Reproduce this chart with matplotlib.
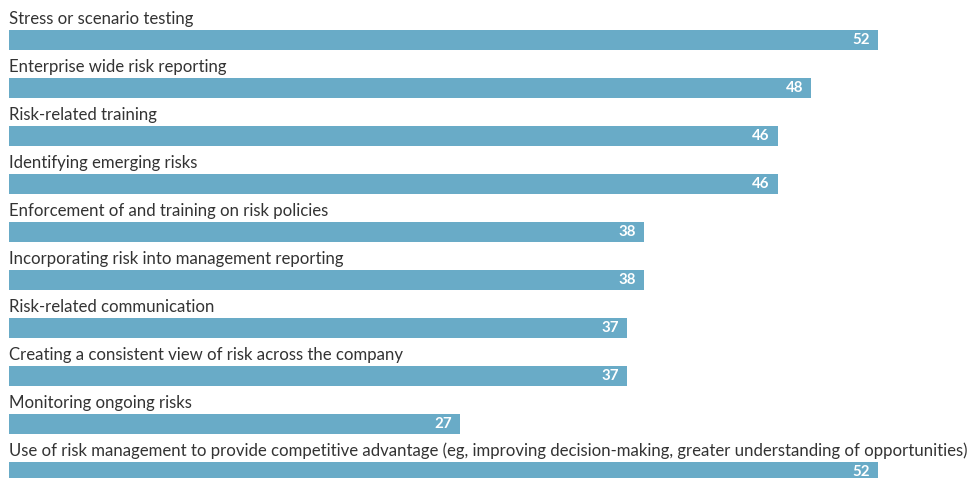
import matplotlib
matplotlib.use("Agg")
import matplotlib.pyplot as plt

categories = [
    "Stress or scenario testing",
    "Enterprise wide risk reporting",
    "Risk-related training",
    "Identifying emerging risks",
    "Enforcement of and training on risk policies",
    "Incorporating risk into management reporting",
    "Risk-related communication",
    "Creating a consistent view of risk across the company",
    "Monitoring ongoing risks",
    "Use of risk management to provide competitive advantage (eg, improving decision-making, greater understanding of opportunities)",
]
values = [52, 48, 46, 46, 38, 38, 37, 37, 27, 52]

BAR_COLOR = "#69abc7"
TEXT_COLOR = "#333333"

fig = plt.figure(figsize=(9.70, 4.78), dpi=100)
ax = fig.add_axes([0, 0, 1, 1])

px_per_unit = 869 / 52.0
ax.set_xlim(-9 / px_per_unit, (970 - 9) / px_per_unit)
row = 48.0
ax.set_ylim((478 - 40) / row, -40 / row)

positions = list(range(len(categories)))
ax.barh(positions, values, height=20 / row, color=BAR_COLOR, left=0)

for y, label, v in zip(positions, categories, values):
    ax.text(0, y - 16 / row, label, ha="left", va="baseline",
            fontsize=12.1, family="Lato", color=TEXT_COLOR)
    ax.text(v - 8 / px_per_unit, y - 1 / row, f"{v}", ha="right",
            va="center_baseline", fontsize=10.8, family="Lato",
            fontweight="bold", color="white")

ax.axis("off")
fig.savefig("out.png", dpi=100)
